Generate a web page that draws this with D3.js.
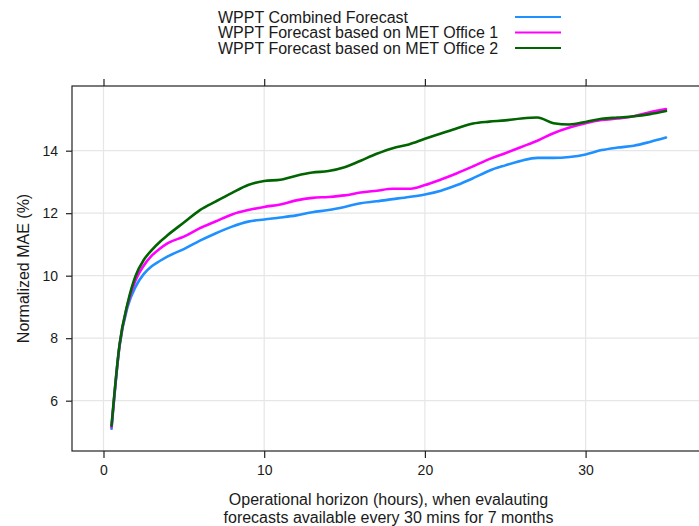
<!DOCTYPE html>
<html>
<head>
<meta charset="utf-8">
<script src="https://cdn.jsdelivr.net/npm/d3@7"></script>
<style>
  html, body { margin: 0; padding: 0; background: #fff; }
  svg { display: block; font-family: "Liberation Sans", Arial, sans-serif; }
</style>
</head>
<body>
<div id="chart"></div>
<script>
// ---- data ----
const hours = [0.5, 1, 1.5, 2, 2.5, 3, 3.5, 4, 5, 6, 7, 8, 9, 10, 11, 12, 13, 14, 15, 16, 17, 18,
  19, 20, 21, 22, 23, 24, 25, 26, 27, 28, 29, 30, 31, 32, 33, 34, 35];

const combined = [5.1, 7.75, 9.0, 9.65, 10.05, 10.3, 10.47, 10.62, 10.85, 11.12, 11.36, 11.57, 11.73,
  11.8, 11.86, 11.93, 12.03, 12.1, 12.2, 12.32, 12.38, 12.45, 12.52, 12.6, 12.72, 12.9, 13.12,
  13.36, 13.53, 13.68, 13.77, 13.77, 13.8, 13.88, 14.02, 14.1, 14.16, 14.28, 14.42];

const metOffice1 = [5.15, 7.78, 9.08, 9.86, 10.32, 10.64, 10.86, 11.04, 11.25, 11.52, 11.74, 11.96,
  12.1, 12.2, 12.28, 12.41, 12.49, 12.52, 12.57, 12.66, 12.72, 12.78, 12.78, 12.9, 13.08, 13.28,
  13.5, 13.73, 13.92, 14.12, 14.32, 14.56, 14.74, 14.88, 14.98, 15.03, 15.1, 15.23, 15.33];

const metOffice2 = [5.2, 7.8, 9.12, 10.0, 10.5, 10.82, 11.08, 11.3, 11.7, 12.1, 12.38, 12.65, 12.9,
  13.03, 13.07, 13.2, 13.3, 13.35, 13.47, 13.68, 13.9, 14.08, 14.2, 14.38, 14.55, 14.72, 14.87,
  14.93, 14.97, 15.03, 15.06, 14.88, 14.84, 14.92, 15.02, 15.06, 15.1, 15.17, 15.27];

const seriesNames = ["WPPT Combined Forecast", "WPPT Forecast based on MET Office 1",
  "WPPT Forecast based on MET Office 2"];
const seriesValues = [combined, metOffice1, metOffice2];
const seriesColors = ["#1e90ff", "#ff00ff", "#006400"];

const xTicks = [0, 10, 20, 30];
const yTicks = [6, 8, 10, 12, 14];

// ---- layout ----
const W = 699, H = 526;
const panel = { left: 72, right: 705, top: 86, bottom: 451 };

const svg = d3.select("#chart").append("svg")
  .attr("width", W)
  .attr("height", H);

const x = d3.scaleLinear().domain([-1.96, 37.43]).range([panel.left, panel.right]);
const y = d3.scaleLinear().domain([4.39, 16.07]).range([panel.bottom, panel.top]);

// grid
svg.append("g").selectAll("line")
  .data(xTicks).enter().append("line")
    .attr("x1", d => x(d)).attr("x2", d => x(d))
    .attr("y1", panel.top).attr("y2", panel.bottom)
    .attr("stroke", "#e6e6e6").attr("stroke-width", 1.2);
svg.append("g").selectAll("line")
  .data(yTicks).enter().append("line")
    .attr("x1", panel.left).attr("x2", panel.right)
    .attr("y1", d => y(d)).attr("y2", d => y(d))
    .attr("stroke", "#e6e6e6").attr("stroke-width", 1.2);

// axes (lattice style: ticks outside, top ticks without labels)
const axisStyle = g => {
  g.select(".domain").remove();
  g.selectAll(".tick line").attr("stroke", "#222").attr("stroke-width", 1.2);
  g.selectAll(".tick text").attr("fill", "#1a1a1a").style("font-size", "14px")
    .style("font-family", '"Liberation Sans", Arial, sans-serif');
};

svg.append("g")
  .attr("transform", `translate(0,${panel.bottom})`)
  .call(d3.axisBottom(x).tickValues(xTicks).tickSize(7).tickPadding(7))
  .call(axisStyle);

svg.append("g")
  .attr("transform", `translate(0,${panel.top})`)
  .call(d3.axisTop(x).tickValues(xTicks).tickSize(7).tickFormat(""))
  .call(axisStyle);

svg.append("g")
  .attr("transform", `translate(${panel.left},0)`)
  .call(d3.axisLeft(y).tickValues(yTicks).tickSize(6).tickPadding(8))
  .call(axisStyle);

// panel box
svg.append("rect")
  .attr("x", panel.left).attr("y", panel.top)
  .attr("width", panel.right - panel.left).attr("height", panel.bottom - panel.top)
  .attr("fill", "none").attr("stroke", "#222").attr("stroke-width", 1.2);

// lines
const line = d3.line()
  .x((d, i) => x(hours[i]))
  .y(d => y(d))
  .curve(d3.curveMonotoneX);

svg.append("g").selectAll("path")
  .data(seriesValues).enter().append("path")
    .attr("d", line)
    .attr("fill", "none")
    .attr("stroke", (d, i) => seriesColors[i])
    .attr("stroke-width", 2.6)
    .attr("stroke-linejoin", "round")
    .attr("stroke-linecap", "round");

// legend
const legend = svg.append("g");
seriesNames.forEach((name, i) => {
  const yy = 17 + i * 15.5;
  legend.append("text")
    .attr("x", 218).attr("y", yy).attr("dy", "0.35em")
    .attr("fill", "#1a1a1a").style("font-size", "16px")
    .text(name);
  legend.append("line")
    .attr("x1", 515).attr("x2", 561)
    .attr("y1", yy).attr("y2", yy)
    .attr("stroke", seriesColors[i]).attr("stroke-width", 2);
});

// axis titles
const cx = (panel.left + panel.right) / 2;
svg.append("text")
  .attr("x", cx).attr("y", 499).attr("dy", "0.35em")
  .attr("text-anchor", "middle").attr("fill", "#1a1a1a").style("font-size", "16px")
  .text("Operational horizon (hours), when evalauting");
svg.append("text")
  .attr("x", cx).attr("y", 517).attr("dy", "0.35em")
  .attr("text-anchor", "middle").attr("fill", "#1a1a1a").style("font-size", "16px")
  .text("forecasts available every 30 mins for 7 months");

svg.append("text")
  .attr("transform", `translate(23,${(panel.top + panel.bottom) / 2}) rotate(-90)`)
  .attr("dy", "0.35em")
  .attr("text-anchor", "middle").attr("fill", "#1a1a1a").style("font-size", "16px")
  .text("Normalized MAE (%)");
</script>
</body>
</html>
